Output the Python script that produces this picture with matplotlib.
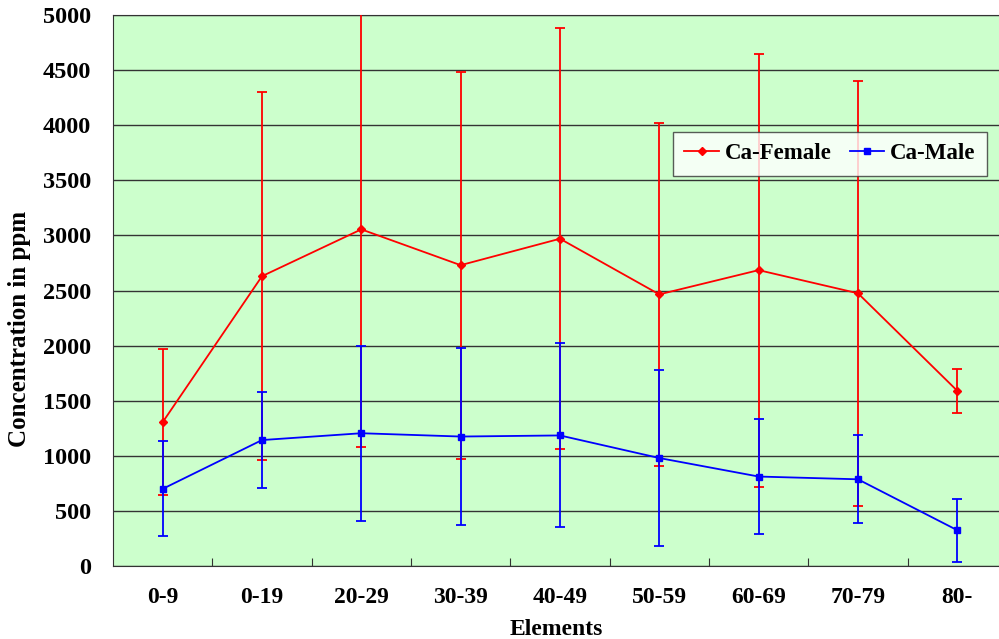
import matplotlib.pyplot as plt
import numpy as np

# age groups and Ca concentration (ppm), mean +/- sd
groups = ["0-9", "0-19", "20-29", "30-39", "40-49", "50-59", "60-69", "70-79", "80-"]
female_mean = [1305, 2630, 3055, 2730, 2970, 2465, 2685, 2475, 1590]
female_err = [665, 1670, 1975, 1755, 1910, 1555, 1965, 1930, 200]
male_mean = [700, 1143, 1205, 1175, 1185, 980, 812, 787, 325]
male_err = [430, 435, 795, 805, 835, 798, 518, 400, 285]

plt.rcParams['font.family'] = ['Liberation Serif', 'DejaVu Serif']
plt.rcParams['font.weight'] = 'bold'

fig = plt.figure(figsize=(9.99, 6.39), dpi=100)
ax = fig.add_axes([0.1131, 0.1142, 0.8869, 0.8623])
ax.set_facecolor('#CCFFCC')

x = np.arange(len(groups))

fem = ax.errorbar(x, female_mean, yerr=female_err, color='#FF0000', lw=1.3,
                  marker='D', ms=4.5, capsize=3.5, elinewidth=1.3, capthick=1.3,
                  label='Ca-Female', zorder=3)
mal = ax.errorbar(x, male_mean, yerr=male_err, color='#0000FF', lw=1.3,
                  marker='s', ms=4.5, capsize=3.5, elinewidth=1.3, capthick=1.3,
                  label='Ca-Male', zorder=4)

ax.set_xlim(-0.5, 8.42)
ax.set_ylim(0, 5000)
ax.set_yticks(np.arange(0, 5001, 500))
ax.yaxis.grid(True, color='#333333', lw=1)
ax.set_axisbelow(True)
ax.tick_params(axis='y', length=0, pad=16, labelsize=17.5)

# tick marks between categories, labels at centres
ax.set_xticks(np.arange(0.5, 8.5, 1.0))
ax.set_xticklabels([])
ax.tick_params(axis='x', which='major', direction='in', length=6, color='#333333')
ax.set_xticks(x, minor=True)
ax.set_xticklabels(groups, minor=True, fontsize=17, fontweight='bold')
ax.tick_params(axis='x', which='minor', length=0, pad=15)

for s in ['left', 'bottom', 'top']:
    ax.spines[s].set_color('#333333')
ax.spines['right'].set_visible(False)

ax.set_xlabel('Elements', fontsize=17, fontweight='bold', labelpad=8)
ax.set_ylabel('Concentration in ppm', fontsize=18, fontweight='bold')
ax.yaxis.set_label_coords(-0.092, 0.43)

leg = ax.legend(handles=[fem[0], mal[0]], labels=['Ca-Female', 'Ca-Male'],
                loc='upper left', bbox_to_anchor=(0.632, 0.788), ncol=2,
                fontsize=16.5, frameon=True, fancybox=False, handlelength=1.5,
                columnspacing=0.8, handletextpad=0.25, borderpad=0.5,
                borderaxespad=0)
leg.get_frame().set_edgecolor('#333333')
leg.get_frame().set_linewidth(1)

fig.savefig('out.png', dpi=100)
